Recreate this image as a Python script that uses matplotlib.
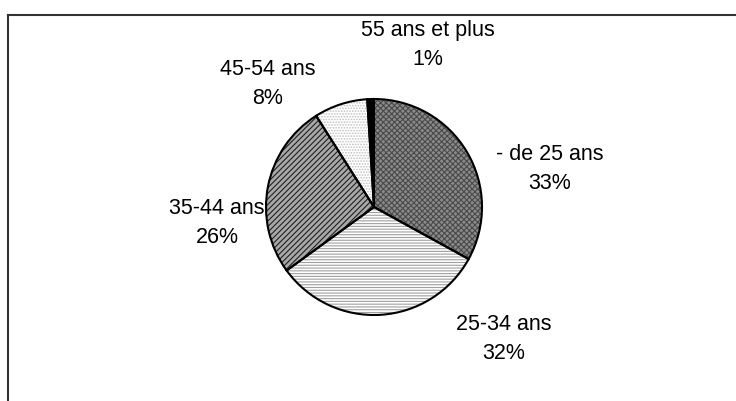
import matplotlib
matplotlib.use("Agg")
import matplotlib.pyplot as plt
from matplotlib.lines import Line2D

categories = ["- de 25 ans", "25-34 ans", "35-44 ans", "45-54 ans", "55 ans et plus"]
values = [33, 32, 26, 8, 1]
pct_labels = ["33%", "32%", "26%", "8%", "1%"]

face_colors = ["#8a8a8a", "#ffffff", "#a8a8a8", "#ffffff", "#000000"]
hatch_colors = ["#4a4a4a", "#a0a0a0", "#202020", "#c0c0c0", "#000000"]
hatches = ["xxxxxx", "------", "//////", "......", None]

plt.rcParams['font.family'] = ['Liberation Sans', 'DejaVu Sans']
plt.rcParams['hatch.linewidth'] = 0.8

W, H = 736, 401
fig = plt.figure(figsize=(W / 100, H / 100), dpi=100)
ax = fig.add_axes([0, 0, 1, 1])

cx, cy, R = 374, 207, 108

wedges, _ = ax.pie(values, startangle=90, counterclock=False, radius=1,
                   colors=face_colors,
                   wedgeprops=dict(linewidth=0))
for w, hc, h in zip(wedges, hatch_colors, hatches):
    w.set_edgecolor(hc)
    w.set_linewidth(0)
    if h:
        w.set_hatch(h)

ax.pie(values, startangle=90, counterclock=False, radius=1,
       colors=["none"] * len(values),
       wedgeprops=dict(fill=False, edgecolor="black", linewidth=1.5))

ax.set_aspect('auto')
ax.set_xlim(-cx / R, (W - cx) / R)
ax.set_ylim(-(H - cy) / R, cy / R)
ax.axis('off')

label_pos = [(550, 169), (504, 339), (217, 223), (268, 84), (428, 45)]
for cat, pct, (px, py) in zip(categories, pct_labels, label_pos):
    fig.text(px / W, 1 - py / H, f"{cat}\n{pct}", ha='center', va='center',
             multialignment='center', fontsize=15.5, linespacing=1.45,
             color='black')

fig.add_artist(Line2D([8 / W, 1.01], [1 - 15 / H, 1 - 15 / H],
                      transform=fig.transFigure, color='#333333', linewidth=1.5))
fig.add_artist(Line2D([8 / W, 8 / W], [1 - 15 / H, -0.01],
                      transform=fig.transFigure, color='#333333', linewidth=1.5))

fig.savefig("out.png", dpi=100, facecolor='white')
